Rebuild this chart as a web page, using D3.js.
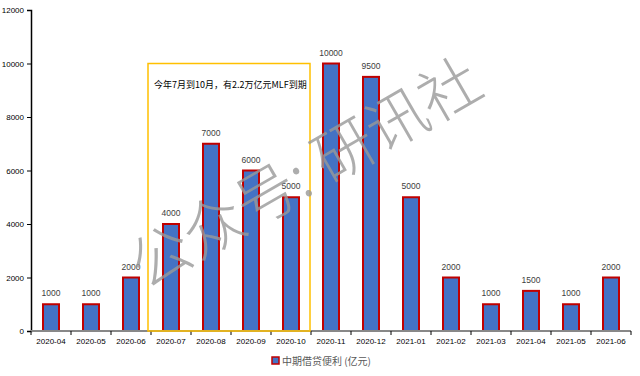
<!DOCTYPE html>
<html>
<head>
<meta charset="utf-8">
<script src="https://cdn.jsdelivr.net/npm/d3@7"></script>
<style>
  body { margin: 0; background: #fff; }
  svg { display: block; font-family: "Noto Sans CJK SC", "Liberation Sans", sans-serif; }
</style>
</head>
<body>
<svg id="chart"></svg>
<script>
const months = ["2020-04", "2020-05", "2020-06", "2020-07", "2020-08", "2020-09", "2020-10",
    "2020-11", "2020-12", "2021-01", "2021-02", "2021-03", "2021-04", "2021-05", "2021-06"];
const amounts = [1000, 1000, 2000, 4000, 7000, 6000, 5000, 10000, 9500, 5000, 2000, 1000, 1500, 1000, 2000];
const yTicks = [0, 2000, 4000, 6000, 8000, 10000, 12000];
const seriesName = "中期借贷便利 (亿元)";
const noteText = "今年7月到10月，有2.2万亿元MLF到期";
const noteMonths = ["2020-07", "2020-10"];
const noteTop = 10000;
const watermark = "公众号: 研讯社";

const width = 640;
const height = 376;
const plotLeft = 31, plotRight = 631, plotTop = 10, plotBottom = 331;

const data = months.map((m, i) => ({ month: m, value: amounts[i] }));

const svg = d3.select("#chart")
    .attr("width", width)
    .attr("height", height);

const x = d3.scaleBand()
    .domain(months)
    .range([plotLeft, plotRight])
    .paddingInner(0.6)
    .paddingOuter(0.3);

const y = d3.scaleLinear()
    .domain([0, 12000])
    .range([plotBottom, plotTop]);

// y axis
const yAxis = svg.append("g")
    .attr("transform", `translate(${plotLeft},0)`)
    .call(d3.axisLeft(y).tickValues(yTicks).tickSize(4).tickPadding(3).tickFormat(d3.format("d")));
yAxis.select(".domain").attr("stroke", "#000").attr("stroke-width", 1.5);
yAxis.selectAll("text").attr("font-size", 8).attr("fill", "#000")
    .attr("font-family", "Liberation Sans, sans-serif");

// bars
svg.append("g").selectAll("rect")
    .data(data)
    .enter()
    .append("rect")
    .attr("x", d => x(d.month))
    .attr("y", d => y(d.value))
    .attr("width", x.bandwidth())
    .attr("height", d => y(0) - y(d.value))
    .attr("fill", "#4472C4")
    .attr("stroke", "#C00000")
    .attr("stroke-width", 2);

// value labels
svg.append("g").selectAll("text")
    .data(data)
    .enter()
    .append("text")
    .attr("x", d => x(d.month) + x.bandwidth() / 2)
    .attr("y", d => y(d.value) - 8)
    .attr("text-anchor", "middle")
    .attr("font-size", 8.5)
    .attr("fill", "#404040")
    .attr("font-family", "Liberation Sans, sans-serif")
    .text(d => d.value);

// x axis
const step = x.step();
const xAxis = svg.append("g")
    .attr("transform", `translate(0,${plotBottom})`);
xAxis.append("line")
    .attr("x1", plotLeft).attr("x2", plotRight)
    .attr("stroke", "#888").attr("stroke-width", 2);
xAxis.selectAll("line.tick")
    .data(d3.range(months.length + 1))
    .enter()
    .append("line")
    .attr("class", "tick")
    .attr("x1", i => plotLeft + i * step)
    .attr("x2", i => plotLeft + i * step)
    .attr("y1", 0).attr("y2", 4)
    .attr("stroke", "#000");
xAxis.selectAll("text")
    .data(months)
    .enter()
    .append("text")
    .attr("x", m => x(m) + x.bandwidth() / 2)
    .attr("y", 13)
    .attr("text-anchor", "middle")
    .attr("font-size", 8)
    .attr("fill", "#000")
    .attr("font-family", "Liberation Sans, sans-serif")
    .text(m => m);

// highlight box
const boxX1 = x(noteMonths[0]) - (step - x.bandwidth()) / 2 - 3;
const boxX2 = x(noteMonths[1]) + x.bandwidth() + (step - x.bandwidth()) / 2 - 1;
svg.append("rect")
    .attr("x", boxX1)
    .attr("y", y(noteTop))
    .attr("width", boxX2 - boxX1)
    .attr("height", y(0) - y(noteTop))
    .attr("fill", "none")
    .attr("stroke", "#FFC000")
    .attr("stroke-width", 1.5);
svg.append("text")
    .attr("x", boxX1 + 6)
    .attr("y", y(noteTop) + 24)
    .attr("font-size", 9)
    .attr("fill", "#000")
    .text(noteText);

// legend
const legend = svg.append("g").attr("transform", "translate(272,361)");
legend.append("rect")
    .attr("x", 0).attr("y", -4)
    .attr("width", 7).attr("height", 7)
    .attr("fill", "#4472C4")
    .attr("stroke", "#C00000")
    .attr("stroke-width", 1.5);
legend.append("text")
    .attr("x", 10).attr("y", 4)
    .attr("font-size", 10)
    .attr("fill", "#595959")
    .text(seriesName);

// watermark
svg.append("text")
    .attr("transform", "translate(316,192) rotate(-30)")
    .attr("text-anchor", "middle")
    .attr("font-size", 61)
    .attr("font-weight", 300)
    .attr("fill", "#999")
    .attr("fill-opacity", 0.8)
    .attr("font-family", "Noto Sans CJK SC, sans-serif")
    .text(watermark);
</script>
</body>
</html>
